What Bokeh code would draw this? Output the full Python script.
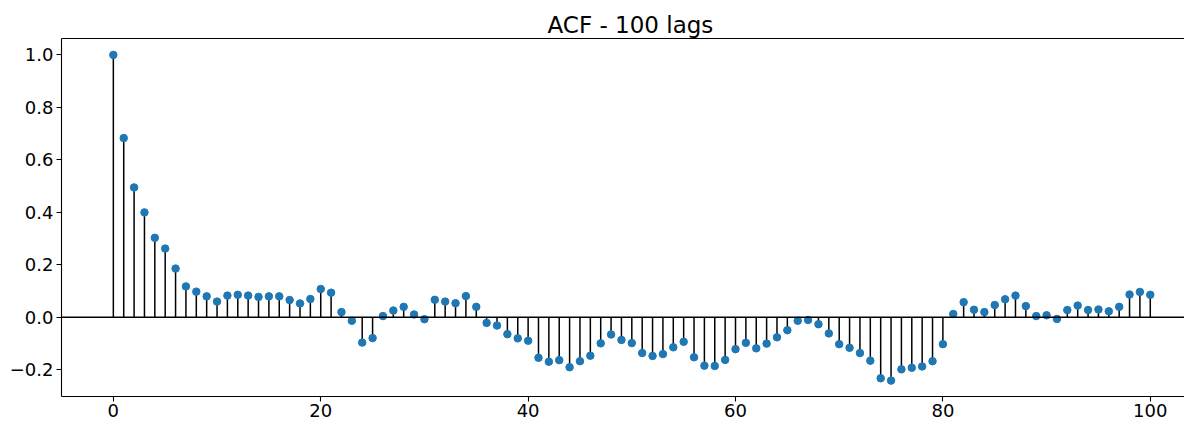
from bokeh.plotting import figure
from bokeh.models import Range1d, FixedTicker, Span, LinearAxis
from bokeh.embed import file_html
from bokeh.resources import INLINE

lags = list(range(101))
acf = [
    1.000, 0.683, 0.495, 0.400, 0.303, 0.262, 0.186, 0.118, 0.098, 0.080,
    0.060, 0.083, 0.086, 0.083, 0.078, 0.080, 0.080, 0.066, 0.053, 0.070,
    0.108, 0.094, 0.020, -0.013, -0.096, -0.079, 0.005, 0.026, 0.040, 0.011,
    -0.007, 0.067, 0.060, 0.054, 0.081, 0.040, -0.021, -0.031, -0.064, -0.080,
    -0.089, -0.154, -0.169, -0.163, -0.190, -0.167, -0.146, -0.099, -0.065, -0.086,
    -0.098, -0.136, -0.147, -0.140, -0.114, -0.093, -0.152, -0.184, -0.185, -0.162,
    -0.121, -0.097, -0.118, -0.100, -0.076, -0.049, -0.013, -0.010, -0.026, -0.061,
    -0.102, -0.116, -0.136, -0.165, -0.232, -0.241, -0.198, -0.192, -0.187, -0.167,
    -0.102, 0.013, 0.058, 0.029, 0.020, 0.047, 0.069, 0.083, 0.043, 0.005,
    0.008, -0.006, 0.028, 0.045, 0.028, 0.030, 0.023, 0.040, 0.087, 0.097,
    0.086,
]
title_text = "ACF - 100 lags"
x_ticks = [0, 20, 40, 60, 80, 100]
y_ticks = [-0.2, 0.0, 0.2, 0.4, 0.6, 0.8, 1.0]
y_tick_labels = ["\u22120.2", "0.0", "0.2", "0.4", "0.6", "0.8", "1.0"]

FONT = "DejaVu Sans"

p = figure(width=1184, height=419, output_backend="svg", toolbar_location=None,
           x_range=Range1d(-5, 103.3), y_range=Range1d(-0.3015, 1.0625),
           min_border_left=61, min_border_right=0, min_border_top=38, min_border_bottom=0)

p.title.text = title_text
p.title.align = "left"
p.title.offset = 486
p.title.text_font = FONT
p.title.text_font_size = "23px"
p.title.text_font_style = "normal"
p.title.text_color = "black"
p.title.standoff = 2

p.xgrid.visible = False
p.ygrid.visible = False
p.outline_line_color = None
p.background_fill_color = "white"
p.border_fill_color = "white"

for ax in (p.xaxis[0], p.yaxis[0]):
    ax.axis_line_color = "black"
    ax.axis_line_width = 1.1
    ax.major_tick_line_color = "black"
    ax.major_tick_line_width = 1.1
    ax.major_tick_out = 5
    ax.major_tick_in = 0
    ax.minor_tick_line_color = None
    ax.major_label_text_font = FONT
    ax.major_label_text_font_size = "18px"
    ax.major_label_text_color = "black"
    ax.major_label_standoff = 3

p.xaxis[0].major_label_standoff = 2
p.xaxis[0].ticker = FixedTicker(ticks=x_ticks)
p.yaxis[0].ticker = FixedTicker(ticks=y_ticks)
p.yaxis[0].major_label_overrides = {t: l for t, l in zip(y_ticks, y_tick_labels)}

# top spine
top = LinearAxis(ticker=FixedTicker(ticks=[]), axis_line_color="black", axis_line_width=1.1,
                 major_tick_line_color=None, minor_tick_line_color=None,
                 major_label_text_font_size="0px", major_label_standoff=0)
p.add_layout(top, "above")

p.add_layout(Span(location=0, dimension="width", line_color="black", line_width=1.5))

p.segment(x0=lags, y0=[0] * len(lags), x1=lags, y1=acf, line_color="black", line_width=1.5)
p.scatter(x=lags, y=acf, size=7.5, fill_color="#1f77b4", line_color="#1f77b4")

open("out.html", "w").write(file_html(p, INLINE))
